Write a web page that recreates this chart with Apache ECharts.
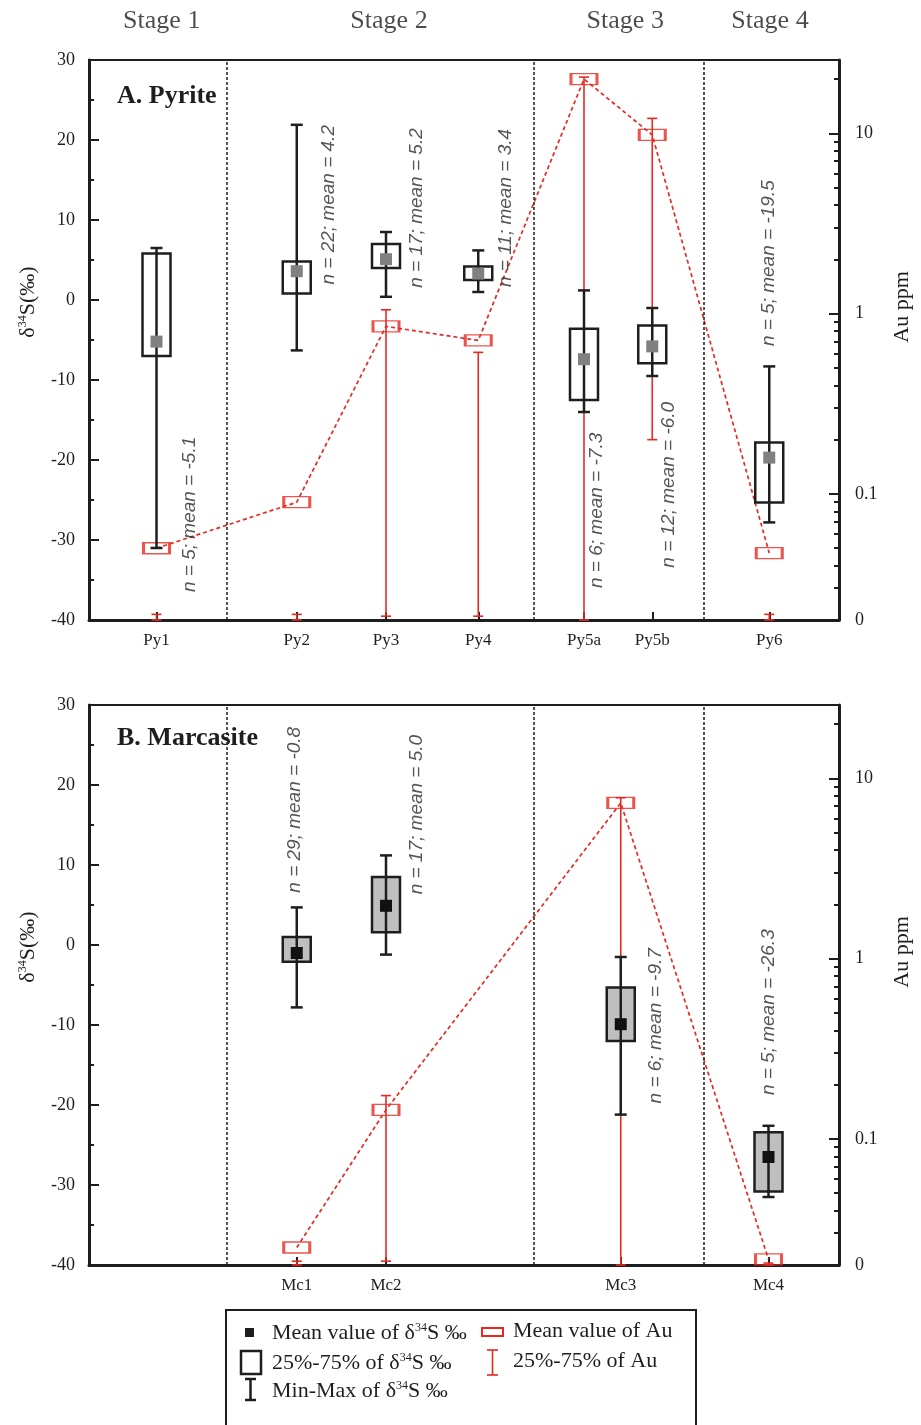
<!DOCTYPE html>
<html>
<head>
<meta charset="utf-8" />
<title>δ34S and Au by stage</title>
<script src="https://cdn.jsdelivr.net/npm/echarts@6/dist/echarts.min.js"></script>
<style>
html, body { margin: 0; background: #fff; }
#main { width: 921px; height: 1425px; }
</style>
</head>
<body>
<div id="main"></div>
<script type="text/javascript">
// x runs 0..10 across each panel
var stageNames = ['Stage 1', 'Stage 2', 'Stage 3', 'Stage 4'];
var stageLabelX = [0.97, 4.0, 7.15, 9.08];
var stageBounds = [1.83, 5.93, 8.19];

// A. Pyrite
var pyNames = ['Py1', 'Py2', 'Py3', 'Py4', 'Py5a', 'Py5b', 'Py6'];
var pyX = [0.90, 2.77, 3.96, 5.19, 6.60, 7.51, 9.07];
var pyMin = [-31.0, -6.3, 0.4, 1.0, -14.0, -9.5, -27.8];
var pyQ1 = [-7.0, 0.8, 4.0, 2.5, -12.5, -7.9, -25.3];
var pyMean = [-5.2, 3.6, 5.1, 3.3, -7.4, -5.8, -19.7];
var pyQ3 = [5.8, 4.8, 7.0, 4.2, -3.6, -3.2, -17.8];
var pyMax = [6.5, 21.9, 8.5, 6.2, 1.2, -1.0, -8.3];
var pyN = [5, 22, 17, 11, 6, 12, 5];
var pyMeanText = ['-5.1', '4.2', '5.2', '3.4', '-7.3', '-6.0', '-19.5'];
var pyNoteX = [1.34, 3.20, 4.375, 5.56, 6.77, 7.73, 9.06];
var pyNoteY = [-26.8, 11.9, 11.5, 11.5, -26.3, -23.1, 4.6];
var pyAuMean = [0.05, 0.09, 0.85, 0.71, 20, 9.8, 0.047];
var pyAuQ1 = [0, 0, 0.021, 0.021, 0, 0.2, 0];
var pyAuQ3 = [0.0215, 0.0215, 1.05, 0.61, 20.5, 12.1, 0.0215];

// B. Marcasite
var mcNames = ['Mc1', 'Mc2', 'Mc3', 'Mc4'];
var mcX = [2.77, 3.96, 7.09, 9.06];
var mcMin = [-7.8, -1.2, -21.2, -31.5];
var mcQ1 = [-2.1, 1.6, -12.0, -30.8];
var mcMean = [-1.0, 4.9, -9.9, -26.5];
var mcQ3 = [1.0, 8.5, -5.3, -23.4];
var mcMax = [4.7, 11.2, -1.5, -22.6];
var mcN = [29, 17, 6, 5];
var mcMeanText = ['-0.8', '5.0', '-9.7', '-26.3'];
var mcNoteX = [2.74, 4.375, 7.55, 9.06];
var mcNoteY = [16.9, 16.3, -10.1, -8.4];
var mcAuMean = [0.025, 0.145, 7.3, 0.0215];
var mcAuQ1 = [0, 0.021, 0, 0];
var mcAuQ3 = [0.021, 0.174, 7.8, 0.0205];

// right axis (log); "0" sits at the bottom of the scale
var AU_MIN = 0.02, AU_MAX = 25.5;
var auMinorTicks = [0.03, 0.04, 0.05, 0.06, 0.07, 0.08, 0.09,
  0.2, 0.3, 0.4, 0.5, 0.6, 0.7, 0.8, 0.9,
  2, 3, 4, 5, 6, 7, 8, 9, 20];

var INK = '#1e1e1e';
var RED = '#e62a22';
var SERIF = 'Liberation Serif';
var SANS = 'Liberation Sans';

function au(v) { return Math.max(v, AU_MIN); }

function xAxisFor(gi, xs, names) {
  return {
    type: 'value', gridIndex: gi, min: 0, max: 10,
    axisLine: { show: true, onZero: false, lineStyle: { color: INK, width: 3 } },
    axisTick: { show: true, inside: true, length: 8, customValues: xs, lineStyle: { color: INK, width: 2 } },
    axisLabel: {
      show: true, customValues: xs, margin: 12, fontFamily: SERIF, fontSize: 17, color: INK,
      formatter: function (v) {
        for (var i = 0; i < xs.length; i++) { if (Math.abs(xs[i] - v) < 1e-6) return names[i]; }
        return '';
      }
    },
    splitLine: { show: false }
  };
}

function leftAxisFor(gi) {
  return {
    type: 'value', gridIndex: gi, position: 'left', min: -40, max: 30, interval: 10,
    axisLine: { show: true, onZero: false, lineStyle: { color: INK, width: 3 } },
    axisTick: { inside: true, length: 10, lineStyle: { color: INK, width: 2 } },
    minorTick: { show: true, splitNumber: 2, length: 5, lineStyle: { color: INK, width: 2 } },
    axisLabel: { margin: 14, fontFamily: SERIF, fontSize: 18, color: INK },
    splitLine: { show: false }, minorSplitLine: { show: false },
    name: '{a|δ}{s|34}{a|S(‰)}', nameLocation: 'middle', nameGap: 50, nameRotate: 90,
    nameTextStyle: {
      padding: [0, 0, 0, 76],
      rich: {
        a: { fontFamily: SERIF, fontSize: 22, color: INK },
        s: { fontFamily: SERIF, fontSize: 12, color: INK, verticalAlign: 'top' }
      }
    }
  };
}

function rightAxisFor(gi) {
  return {
    type: 'log', logBase: 10, gridIndex: gi, position: 'right', min: AU_MIN, max: AU_MAX,
    axisLine: { show: true, onZero: false, lineStyle: { color: INK, width: 3 } },
    axisTick: { inside: true, length: 10, lineStyle: { color: INK, width: 2 } },
    axisLabel: {
      margin: 16, fontFamily: SERIF, fontSize: 18, color: INK,
      formatter: function (v) {
        if (v < 0.05) return '0';
        if (v > 20) return '';
        return String(+v.toPrecision(3));
      }
    },
    splitLine: { show: false },
    name: 'Au ppm', nameLocation: 'middle', nameGap: 52, nameRotate: 90,
    nameTextStyle: { fontFamily: SERIF, fontSize: 22, color: INK, padding: [0, 0, 0, 66] }
  };
}

// second right axis, only for the 2..9 log ticks
function minorAxisFor(gi) {
  return {
    type: 'log', logBase: 10, gridIndex: gi, position: 'right', min: AU_MIN, max: AU_MAX,
    axisLine: { show: false, onZero: false },
    axisTick: { show: true, inside: true, length: 5, customValues: auMinorTicks, lineStyle: { color: INK, width: 2 } },
    axisLabel: { show: false },
    splitLine: { show: false }
  };
}

function boxRenderer(fill, meanColor) {
  return function (params, api) {
    var x = api.value(0);
    var pMin = api.coord([x, api.value(1)]);
    var pQ1 = api.coord([x, api.value(2)]);
    var pMean = api.coord([x, api.value(3)]);
    var pQ3 = api.coord([x, api.value(4)]);
    var pMax = api.coord([x, api.value(5)]);
    var cx = pMin[0], bw = 28, cw = 12, ms = 12;
    var ls = { stroke: INK, lineWidth: 2.5 };
    return {
      type: 'group',
      children: [
        { type: 'rect', shape: { x: cx - bw / 2, y: pQ3[1], width: bw, height: pQ1[1] - pQ3[1] },
          style: { fill: fill, stroke: INK, lineWidth: 2.5 } },
        { type: 'line', shape: { x1: cx, y1: pMax[1], x2: cx, y2: pMin[1] }, style: ls },
        { type: 'line', shape: { x1: cx - cw / 2, y1: pMax[1], x2: cx + cw / 2, y2: pMax[1] }, style: ls },
        { type: 'line', shape: { x1: cx - cw / 2, y1: pMin[1], x2: cx + cw / 2, y2: pMin[1] }, style: ls },
        { type: 'rect', shape: { x: cx - ms / 2, y: pMean[1] - ms / 2, width: ms, height: ms },
          style: { fill: meanColor } }
      ]
    };
  };
}

function auBarRenderer(params, api) {
  var x = api.value(0);
  var lo = api.coord([x, api.value(1)]);
  var hi = api.coord([x, api.value(2)]);
  var cx = lo[0], cw = 10;
  var ls = { stroke: RED, lineWidth: 1.6 };
  return {
    type: 'group',
    children: [
      { type: 'line', shape: { x1: cx, y1: lo[1], x2: cx, y2: hi[1] }, style: ls },
      { type: 'line', shape: { x1: cx - cw / 2, y1: lo[1], x2: cx + cw / 2, y2: lo[1] }, style: ls },
      { type: 'line', shape: { x1: cx - cw / 2, y1: hi[1], x2: cx + cw / 2, y2: hi[1] }, style: ls }
    ]
  };
}

function panelSeries(gi, xs, mn, q1, mean, q3, mx, n, meanText, noteX, noteY, auMean, auQ1, auQ3, boxFill, meanColor) {
  var yL = gi * 3, yR = gi * 3 + 1;
  var boxData = [], auBars = [], auPts = [], notes = [];
  for (var i = 0; i < xs.length; i++) {
    boxData.push([xs[i], mn[i], q1[i], mean[i], q3[i], mx[i]]);
    auBars.push([xs[i], au(auQ1[i]), au(auQ3[i])]);
    auPts.push([xs[i], au(auMean[i])]);
    notes.push({ name: 'n = ' + n[i] + '; mean = ' + meanText[i], value: [noteX[i], noteY[i]] });
  }
  return [
    {
      type: 'line', xAxisIndex: gi, yAxisIndex: yR, data: auPts, symbol: 'none', z: 2,
      lineStyle: { color: RED, width: 1.7, type: [4, 3] },
      markLine: {
        silent: true, symbol: 'none', label: { show: false },
        lineStyle: { color: INK, width: 1.5, type: [3, 2] },
        data: stageBounds.map(function (b) { return { xAxis: b }; })
      }
    },
    { type: 'custom', xAxisIndex: gi, yAxisIndex: yR, data: auBars, renderItem: auBarRenderer, z: 3, clip: false },
    {
      type: 'scatter', xAxisIndex: gi, yAxisIndex: yR, data: auPts, z: 4,
      symbol: 'rect', symbolSize: [26, 11],
      itemStyle: { color: 'rgba(0,0,0,0)', borderColor: RED, borderWidth: 2 }
    },
    { type: 'custom', xAxisIndex: gi, yAxisIndex: yL, data: boxData, renderItem: boxRenderer(boxFill, meanColor), z: 5, clip: false },
    {
      type: 'scatter', xAxisIndex: gi, yAxisIndex: yL, data: notes, symbolSize: 0, z: 6,
      label: {
        show: true, position: 'inside', rotate: 90, formatter: '{b}',
        fontFamily: SANS, fontStyle: 'italic', fontSize: 19, color: '#2a2a2a'
      }
    }
  ];
}

var chart = echarts.init(document.getElementById('main'));

var series = []
  .concat(panelSeries(0, pyX, pyMin, pyQ1, pyMean, pyQ3, pyMax, pyN, pyMeanText, pyNoteX, pyNoteY,
    pyAuMean, pyAuQ1, pyAuQ3, '#ffffff', '#808080'))
  .concat(panelSeries(1, mcX, mcMin, mcQ1, mcMean, mcQ3, mcMax, mcN, mcMeanText, mcNoteX, mcNoteY,
    mcAuMean, mcAuQ1, mcAuQ3, '#bfbfbf', '#111111'));

// stage headings above panel A
series.push({
  type: 'scatter', xAxisIndex: 0, yAxisIndex: 0, symbolSize: 0,
  data: stageNames.map(function (s, i) { return { name: s, value: [stageLabelX[i], 30] }; }),
  label: { show: true, position: 'top', distance: 26, formatter: '{b}', fontFamily: SERIF, fontSize: 26, color: INK }
});

var supRich = {
  s: { fontFamily: SERIF, fontSize: 12, color: INK, verticalAlign: 'top' }
};
function legendText(x, y, txt) {
  return {
    type: 'text', x: x, y: y,
    style: { text: txt, fontFamily: SERIF, fontSize: 22, fill: INK, verticalAlign: 'middle', rich: supRich }
  };
}

var legend = {
  type: 'group',
  children: [
    { type: 'rect', shape: { x: 226, y: 1310, width: 470, height: 130 }, style: { fill: '#fff', stroke: INK, lineWidth: 2 } },
    { type: 'rect', shape: { x: 245, y: 1328, width: 9, height: 9 }, style: { fill: INK } },
    legendText(272, 1333, 'Mean value of δ{s|34}S ‰'),
    { type: 'rect', shape: { x: 482, y: 1328, width: 21, height: 8 }, style: { fill: 'none', stroke: RED, lineWidth: 2 } },
    legendText(513, 1331, 'Mean value of Au'),
    { type: 'rect', shape: { x: 241, y: 1351, width: 20, height: 23 }, style: { fill: 'none', stroke: INK, lineWidth: 2.5 } },
    legendText(272, 1363, '25%-75% of δ{s|34}S ‰'),
    { type: 'polyline', shape: { points: [[487, 1350], [498, 1350]] }, style: { stroke: RED, lineWidth: 1.6 } },
    { type: 'polyline', shape: { points: [[492.5, 1350], [492.5, 1375]] }, style: { stroke: RED, lineWidth: 1.6 } },
    { type: 'polyline', shape: { points: [[487, 1375], [498, 1375]] }, style: { stroke: RED, lineWidth: 1.6 } },
    legendText(513, 1361, '25%-75% of Au'),
    { type: 'polyline', shape: { points: [[245, 1379], [256, 1379]] }, style: { stroke: INK, lineWidth: 2.5 } },
    { type: 'polyline', shape: { points: [[250.5, 1379], [250.5, 1400]] }, style: { stroke: INK, lineWidth: 2.5 } },
    { type: 'polyline', shape: { points: [[245, 1400], [256, 1400]] }, style: { stroke: INK, lineWidth: 2.5 } },
    legendText(272, 1391, 'Min-Max of δ{s|34}S ‰')
  ]
};

chart.setOption({
  backgroundColor: '#ffffff',
  animation: false,
  title: [
    { text: 'A. Pyrite', left: 117, top: 83, padding: 0,
      textStyle: { fontFamily: SERIF, fontWeight: 'bold', fontSize: 26, color: INK } },
    { text: 'B. Marcasite', left: 117, top: 725, padding: 0,
      textStyle: { fontFamily: SERIF, fontWeight: 'bold', fontSize: 26, color: INK } }
  ],
  grid: [
    { left: 89, right: 80, top: 60, height: 560, show: true, borderColor: INK, borderWidth: 2, backgroundColor: 'transparent' },
    { left: 89, right: 80, top: 705, height: 560, show: true, borderColor: INK, borderWidth: 2, backgroundColor: 'transparent' }
  ],
  xAxis: [xAxisFor(0, pyX, pyNames), xAxisFor(1, mcX, mcNames)],
  yAxis: [
    leftAxisFor(0), rightAxisFor(0), minorAxisFor(0),
    leftAxisFor(1), rightAxisFor(1), minorAxisFor(1)
  ],
  series: series,
  graphic: [legend]
});
</script>
</body>
</html>
